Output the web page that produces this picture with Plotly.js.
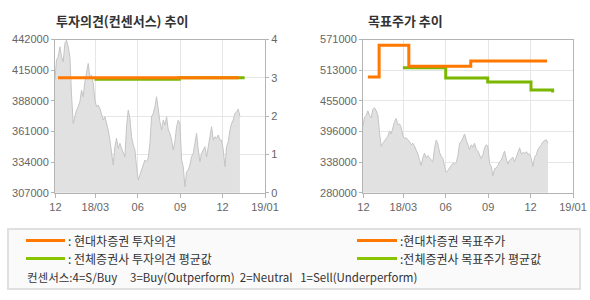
<!DOCTYPE html>
<html>
<head>
<meta charset="utf-8">
<script src="https://cdn.plot.ly/plotly-3.0.1.min.js"></script>
<style>html,body{margin:0;padding:0;background:#fff;}#chart{width:590px;height:300px;}</style>
</head>
<body>
<div id="chart"></div>
<script>
// ---- data ----
const tickPos = [0.06, 1, 2, 3, 4, 5];
const tickLabels = ['12', '18/03', '06', '09', '12', '19/01'];

// daily closing price, evenly spaced in time
const price = [
  406200, 423900, 426800, 435600, 426800, 422400, 438500, 441500, 435600, 426800,
  393000, 368100, 374000, 379800, 382800, 387200, 397400, 391600, 404800, 415100,
  420900, 409200, 410700, 403300, 388600, 382800, 384200, 381300, 376900, 371000,
  374000, 368100, 362200, 353400, 341700, 331400, 347500, 354900, 346100, 350500,
  346100, 341700, 338700, 365200, 379800, 372500, 356300, 349000, 344600, 329900,
  318200, 322600, 327000, 331400, 335800, 334300, 337300, 350500, 374000, 376900,
  382800, 391600, 379800, 369600, 362200, 371000, 366600, 374000, 362200, 359300,
  353400, 344600, 351900, 365200, 371000, 368100, 335800, 329900, 312300, 325500,
  327000, 331400, 338700, 341700, 350500, 359300, 344600, 334300, 341700, 344600,
  347500, 338700, 347500, 356300, 365200, 353400, 356300, 354900, 357800, 353400,
  353400, 344600, 329900, 347500, 351900, 362200, 368100, 371000, 376900, 378400,
  380700, 374000
];
const priceStart = 0.047;
const priceStep = 0.0393;

// investment opinion (consensus scale 1-4)
const opinionHdX = [0.12, 4.38];
const opinionHdY = [3, 3];
const opinionAvgX = [0.98, 2.98, 4.52];
const opinionAvgY = [2.96, 3.0, 3.0];

// target price
const targetHdX = [0.165, 0.43, 1.13, 2.59, 4.39];
const targetHdY = [500000, 560000, 520000, 530000, 530000];
const targetAvgX = [0.99, 2.0, 2.99, 4.01, 4.52, 4.52];
const targetAvgY = [517500, 498000, 490500, 475000, 475000, 470500];

const leftYTicks = [307000, 334000, 361000, 388000, 415000, 442000];
const leftYLabels = ['307000', '334000', '361000', '388000', '415000', '442000'];
const rightYTicks = [280000, 338200, 396400, 454600, 512800, 571000];
const rightYLabels = ['280000', '338000', '396000', '455000', '513000', '571000'];
const opinionTicks = [0, 1, 2, 3, 4];

// ---- styling ----
const ORANGE = '#ff7800';
const GREEN = '#7ab800';
const AXIS = '#b4b4b4';
const GRID = '#e6e6e6';
const TICKF = {family: 'Liberation Sans, Arial, sans-serif', size: 11, color: '#666'};
const KR = 'Noto Sans CJK KR, sans-serif';
const W = 590, H = 300;
const px = v => v / W;
const py = v => 1 - v / H;

const priceX = price.map((_, i) => priceStart + i * priceStep);

const areaStyle = {
  type: 'scatter', mode: 'lines', fill: 'tozeroy',
  line: {color: '#c4c4c4', width: 1}, fillcolor: '#e1e1e1',
  hoverinfo: 'skip', showlegend: false
};

const traces = [
  Object.assign({x: priceX, y: price, xaxis: 'x', yaxis: 'y'}, areaStyle),
  {x: opinionAvgX, y: opinionAvgY, xaxis: 'x', yaxis: 'y2', type: 'scatter', mode: 'lines',
   line: {color: GREEN, width: 3, shape: 'hv'}, showlegend: false},
  {x: opinionHdX, y: opinionHdY, xaxis: 'x', yaxis: 'y2', type: 'scatter', mode: 'lines',
   line: {color: ORANGE, width: 3, shape: 'hv'}, showlegend: false},
  Object.assign({x: priceX, y: price, xaxis: 'x2', yaxis: 'y3'}, areaStyle),
  {x: targetAvgX, y: targetAvgY, xaxis: 'x2', yaxis: 'y3', type: 'scatter', mode: 'lines',
   line: {color: GREEN, width: 3, shape: 'hv'}, showlegend: false},
  {x: targetHdX, y: targetHdY, xaxis: 'x2', yaxis: 'y3', type: 'scatter', mode: 'lines',
   line: {color: ORANGE, width: 3, shape: 'hv'}, showlegend: false}
];

const xCommon = {
  range: [0.05, 5], tickvals: tickPos, ticktext: tickLabels,
  showgrid: true, gridcolor: GRID, gridwidth: 1,
  showline: true, linecolor: AXIS, linewidth: 1, mirror: true,
  ticks: 'outside', ticklen: 4, tickcolor: AXIS, tickfont: TICKF,
  zeroline: false, fixedrange: true
};

const yDomain = [py(192.7), py(39.5)];

const layout = {
  width: W, height: H,
  margin: {l: 0, r: 0, t: 0, b: 0},
  paper_bgcolor: '#fff', plot_bgcolor: '#fff',
  showlegend: false,
  xaxis: Object.assign({}, xCommon, {domain: [px(55), px(265)], anchor: 'y'}),
  xaxis2: Object.assign({}, xCommon, {domain: [px(363), px(573)], anchor: 'y3'}),
  yaxis: {
    domain: yDomain, range: [307000, 442000], tickvals: leftYTicks, ticktext: leftYLabels,
    showgrid: false, showline: true, linecolor: AXIS, zeroline: false,
    ticks: 'outside', ticklen: 3, tickcolor: AXIS, tickfont: TICKF, anchor: 'x'
  },
  yaxis2: {
    domain: yDomain, range: [0, 4], tickvals: opinionTicks, overlaying: 'y', side: 'right',
    showgrid: true, gridcolor: GRID, showline: true, linecolor: AXIS, zeroline: false,
    ticks: 'outside', ticklen: 3, tickcolor: AXIS, tickfont: TICKF, anchor: 'x'
  },
  yaxis3: {
    domain: yDomain, range: [280000, 571000], tickvals: rightYTicks, ticktext: rightYLabels,
    showgrid: true, gridcolor: GRID, showline: true, linecolor: AXIS, mirror: true, zeroline: false,
    ticks: 'outside', ticklen: 3, tickcolor: AXIS, tickfont: TICKF, anchor: 'x2'
  },
  shapes: [
    {type: 'rect', xref: 'paper', yref: 'paper', x0: px(8), x1: px(580), y0: py(289), y1: py(229),
     line: {color: '#e0e0e0', width: 2}, fillcolor: '#fafafa', layer: 'below'},
    {type: 'line', xref: 'paper', yref: 'paper', x0: px(26), x1: px(65), y0: py(240.5), y1: py(240.5),
     line: {color: ORANGE, width: 3}},
    {type: 'line', xref: 'paper', yref: 'paper', x0: px(26), x1: px(65), y0: py(258.5), y1: py(258.5),
     line: {color: '#88c400', width: 3}},
    {type: 'line', xref: 'paper', yref: 'paper', x0: px(357), x1: px(397), y0: py(240.5), y1: py(240.5),
     line: {color: ORANGE, width: 3}},
    {type: 'line', xref: 'paper', yref: 'paper', x0: px(357), x1: px(397), y0: py(258.5), y1: py(258.5),
     line: {color: '#88c400', width: 3}}
  ],
  annotations: [
    {text: '투자의견(컨센서스) 추이', xref: 'paper', yref: 'paper', x: px(54), y: py(20.5),
     xanchor: 'left', yanchor: 'middle', showarrow: false,
     font: {family: KR, size: 13, color: '#333', weight: 'bold'}},
    {text: '목표주가 추이', xref: 'paper', yref: 'paper', x: px(366), y: py(20.5),
     xanchor: 'left', yanchor: 'middle', showarrow: false,
     font: {family: KR, size: 13, color: '#333', weight: 'bold'}},
    {text: ': 현대차증권 투자의견', xref: 'paper', yref: 'paper', x: px(66), y: py(240.5),
     xanchor: 'left', yanchor: 'middle', showarrow: false, font: {family: KR, size: 12, color: '#333'}},
    {text: ': 전체증권사 투자의견 평균값', xref: 'paper', yref: 'paper', x: px(66), y: py(258.5),
     xanchor: 'left', yanchor: 'middle', showarrow: false, font: {family: KR, size: 12, color: '#333'}},
    {text: ':현대차증권 목표주가', xref: 'paper', yref: 'paper', x: px(398), y: py(240.5),
     xanchor: 'left', yanchor: 'middle', showarrow: false, font: {family: KR, size: 12, color: '#333'}},
    {text: ':전체증권사 목표주가 평균값', xref: 'paper', yref: 'paper', x: px(398), y: py(258.5),
     xanchor: 'left', yanchor: 'middle', showarrow: false, font: {family: KR, size: 12, color: '#333'}},
    {text: '컨센서스:4=S/Buy\u00A0\u00A0\u00A0\u00A0 3=Buy(Outperform)\u00A0 2=Neutral\u00A0\u00A0 1=Sell(Underperform)',
     xref: 'paper', yref: 'paper', x: px(25), y: py(277),
     xanchor: 'left', yanchor: 'middle', showarrow: false, font: {family: KR, size: 11.5, color: '#333'}}
  ]
};

Plotly.newPlot('chart', traces, layout, {displayModeBar: false, staticPlot: true});
</script>
</body>
</html>
